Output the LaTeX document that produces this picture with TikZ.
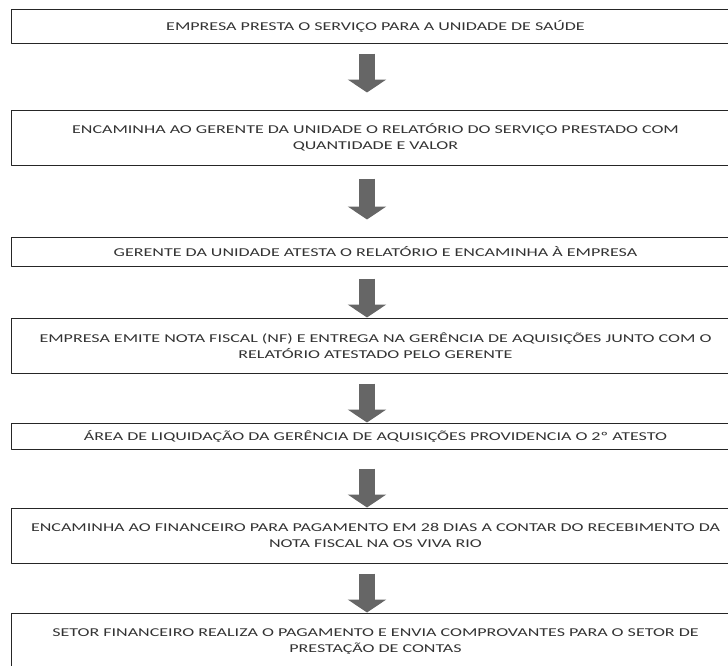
\documentclass[tikz,border=0pt]{standalone}
\usepackage{fontspec}
\setmainfont{Carlito}[FakeStretch=1.5]
\usetikzlibrary{arrows.meta,positioning}
\begin{document}
\begin{tikzpicture}[x=1pt,y=-1pt,font=\fontsize{12}{16}\selectfont,line join=round,
	box/.style={draw=black!85,line width=1pt,minimum width=729pt,inner sep=0pt,align=center,text=black!80},
	flow/.style={line width=16pt,draw=black!60,-{Triangle[width=38pt,length=13pt]},shorten <=10pt}]
	\useasboundingbox (0,0) rectangle (728,665);
	\clip (0,0) rectangle (728,665);
	\node[box,minimum height=34pt] (b1) at (375.5,26) {EMPRESA PRESTA O SERVIÇO PARA A UNIDADE DE SAÚDE};
	\node[box,minimum height=55pt] (b2) at (375.5,137.5) {ENCAMINHA AO GERENTE DA UNIDADE O RELATÓRIO DO SERVIÇO PRESTADO COM\\ QUANTIDADE E VALOR};
	\node[box,minimum height=29pt] (b3) at (375.5,251.5) {GERENTE DA UNIDADE ATESTA O RELATÓRIO E ENCAMINHA À EMPRESA};
	\node[box,minimum height=55pt] (b4) at (375.5,345.5) {EMPRESA EMITE NOTA FISCAL (NF) E ENTREGA NA GERÊNCIA DE AQUISIÇÕES JUNTO COM O\\ RELATÓRIO ATESTADO PELO GERENTE};
	\node[box,minimum height=26pt] (b5) at (375.5,436) {ÁREA DE LIQUIDAÇÃO DA GERÊNCIA DE AQUISIÇÕES PROVIDENCIA O 2º ATESTO};
	\node[box,minimum height=55pt] (b6) at (375.5,535.5) {ENCAMINHA AO FINANCEIRO PARA PAGAMENTO EM 28 DIAS A CONTAR DO RECEBIMENTO DA\\ NOTA FISCAL NA OS VIVA RIO};
	\node[box,minimum height=57pt] (b7) at (375.5,641.5) {SETOR FINANCEIRO REALIZA O PAGAMENTO E ENVIA COMPROVANTES PARA O SETOR DE\\ PRESTAÇÃO DE CONTAS};
	\draw[flow,shorten >=17pt] ([xshift=-8.5pt]b1.south) -- ([xshift=-8.5pt]b2.north);
	\draw[flow,shorten <=13pt,shorten >=17pt] ([xshift=-8.5pt]b2.south) -- ([xshift=-8.5pt]b3.north);
	\draw[flow,shorten <=12pt] ([xshift=-8.5pt]b3.south) -- ([xshift=-8.5pt]b4.north);
	\draw[flow] ([xshift=-8.5pt]b4.south) -- ([xshift=-8.5pt]b5.north);
	\draw[flow,shorten <=19pt] ([xshift=-8.5pt]b5.south) -- ([xshift=-8.5pt]b6.north);
	\draw[flow] ([xshift=-8.5pt]b6.south) -- ([xshift=-8.5pt]b7.north);
\end{tikzpicture}
\end{document}
